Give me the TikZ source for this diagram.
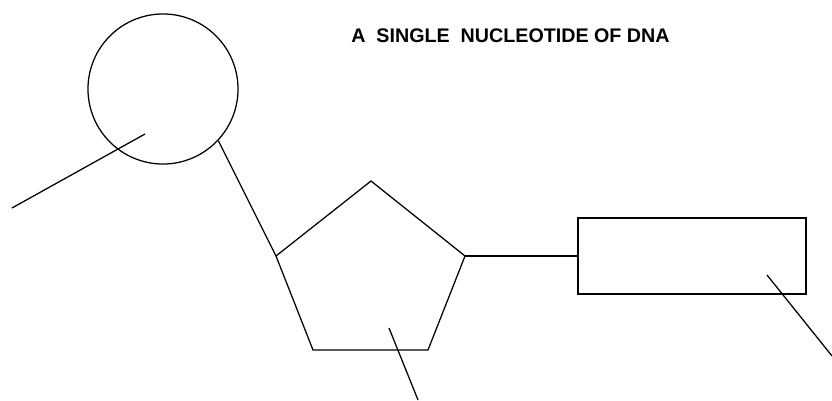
\documentclass[tikz,border=0pt]{standalone}
\usepackage{fontspec}
\usepackage{tikz}
\usetikzlibrary{positioning}
\newfontfamily\titlefont{Liberation Sans}

\begin{document}
\begin{tikzpicture}[x=0.025cm,y=-0.025cm,line width=0.9pt]
      \useasboundingbox (0,0) rectangle (832,400);
      \node[font=\titlefont\bfseries\fontsize{14}{16}\selectfont, anchor=west] (title) at (346,36) {A\ \ SINGLE\ \ NUCLEOTIDE OF DNA};
      \node[draw, circle, minimum size=3.75cm, inner sep=0pt] (phosphate) at (163,89) {};
      \node[draw, minimum width=5.7cm, minimum height=1.9cm, inner sep=0pt] (base) at (692,256) {};
      % sugar ring
      \coordinate (s1) at (371,181);
      \coordinate (s2) at (465,256);
      \coordinate (s3) at (428,350);
      \coordinate (s4) at (313,350);
      \coordinate (s5) at (276,256);
      \draw (s1) -- (s2) -- (s3) -- (s4) -- (s5) -- cycle;
      \draw (phosphate.-43) -- (s5);
      \draw (s2) -- (base.west);
      % label lines
      \coordinate (p1) at (145,134);
      \coordinate (p1end) at (12,208);
      \coordinate (p2) at (389,328);
      \coordinate (p2end) at (418,400);
      \coordinate (p3) at (767,275);
      \coordinate (p3end) at (832,356);
      \draw (p1) -- (p1end);
      \draw (p2) -- (p2end);
      \draw (p3) -- (p3end);
    \end{tikzpicture}
\end{document}
